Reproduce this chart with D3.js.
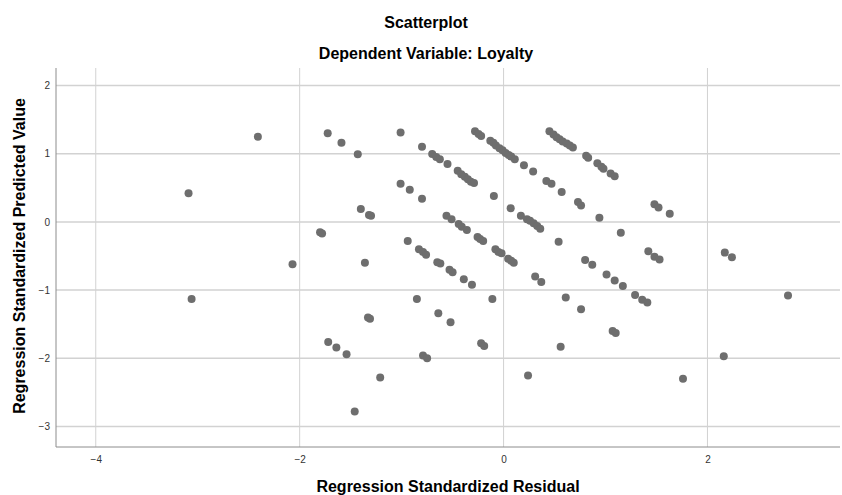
<!DOCTYPE html>
<html>
<head>
<meta charset="utf-8">
<script src="https://cdn.jsdelivr.net/npm/d3@7"></script>
<style>
  body { margin: 0; background: #fff; }
  svg { display: block; font-family: "Liberation Sans", Arial, sans-serif; }
</style>
</head>
<body>
<div id="chart"></div>
<script>
// Standardized residuals (x) and standardized predicted values (y)
const residuals = [
  -3.09, -3.06, -2.41, -2.07, -1.80, -1.78, -1.725, -1.72, -1.64, -1.59, -1.54, -1.46, -1.43, -1.40,
  -1.36, -1.33, -1.31, -1.32, -1.30, -1.21,
  -1.01, -1.01, -0.94, -0.92, -0.85, -0.83, -0.80, -0.80, -0.79, -0.79, -0.76, -0.75, -0.70, -0.66,
  -0.65, -0.64, -0.625, -0.62, -0.56, -0.55, -0.53, -0.52, -0.51, -0.50, -0.45, -0.44, -0.415, -0.41,
  -0.39, -0.38, -0.36, -0.35, -0.32, -0.31, -0.29, -0.28, -0.255, -0.245, -0.23, -0.22, -0.22, -0.20,
  -0.19, -0.13, -0.11, -0.10, -0.095, -0.08, -0.075, -0.05, -0.04, -0.02, -0.01, 0.02, 0.045, 0.05,
  0.07, 0.075, 0.075, 0.10, 0.11, 0.17, 0.20, 0.23, 0.24, 0.26, 0.29, 0.295, 0.31, 0.33, 0.36, 0.37,
  0.42, 0.45, 0.47, 0.49, 0.52, 0.54, 0.55, 0.56, 0.57, 0.58, 0.61, 0.62, 0.65, 0.68, 0.73, 0.76,
  0.76, 0.80, 0.81, 0.83, 0.87, 0.92, 0.94, 0.96, 0.98, 1.01, 1.05, 1.07, 1.09, 1.09, 1.10, 1.15, 1.17,
  1.29, 1.36, 1.41, 1.42, 1.48, 1.48, 1.52, 1.53, 1.63, 1.76, 2.16, 2.17, 2.24, 2.79
];
const predicted = [
  0.42, -1.13, 1.25, -0.62, -0.15, -0.17, 1.30, -1.76, -1.84, 1.16, -1.94, -2.78, 0.99, 0.19,
  -0.60, -1.40, -1.42, 0.10, 0.09, -2.28,
  1.31, 0.56, -0.28, 0.47, -1.13, -0.40, 1.10, 0.34, -0.44, -1.96, -0.48, -2.00, 0.995, 0.95,
  -0.59, -1.34, 0.92, -0.61, 0.09, 0.85, -0.70, -1.47, 0.04, -0.74, 0.75, -0.03, 0.70, -0.07,
  -0.84, 0.66, -0.12, 0.625, 0.59, -0.92, 0.57, 1.33, -0.22, 1.29, -0.25, 1.26, -1.78, -0.28,
  -1.82, 1.19, -1.13, 1.16, 0.38, -0.40, 1.12, -0.44, 1.08, -0.46, 1.05, 1.01, -0.54, 0.98,
  0.20, 0.96, -0.57, -0.60, 0.92, 0.09, 0.83, 0.04, -2.25, 0.015, 0.74, -0.02, -0.80, -0.06, -0.10, -0.88,
  0.60, 1.33, 0.56, 1.28, 1.24, -0.29, 1.21, -1.83, 0.44, 1.18, -1.11, 1.15, 1.12, 1.09, 0.29, 0.24,
  -1.28, -0.56, 0.97, 0.94, -0.63, 0.86, 0.06, 0.81, 0.78, -0.77, 0.71, -1.60, 0.67, -0.86, -1.63, -0.16, -0.94,
  -1.07, -1.14, -1.18, -0.43, 0.26, -0.51, 0.21, -0.55, 0.12, -2.30, -1.97, -0.45, -0.52, -1.08
];
const xTicks = [-4, -2, 0, 2];
const yTicks = [-3, -2, -1, 0, 1, 2];

const title = 'Scatterplot';
const subtitle = 'Dependent Variable: Loyalty';
const xTitle = 'Regression Standardized Residual';
const yTitle = 'Regression Standardized Predicted Value';

const width = 842, height = 495;
const margin = { top: 68, right: 2, bottom: 48, left: 56 };

const svg = d3.select('#chart').append('svg')
  .attr('width', width)
  .attr('height', height);

const x = d3.scaleLinear().domain([-4.39, 3.30]).range([margin.left, width - margin.right]);
const y = d3.scaleLinear().domain([-3.3, 2.3]).range([height - margin.bottom, 65]);

// Gridlines
svg.append('g')
  .selectAll('line')
  .data(xTicks)
  .join('line')
  .attr('x1', d => x(d)).attr('x2', d => x(d))
  .attr('y1', margin.top).attr('y2', height - margin.bottom)
  .attr('stroke', '#d2d2d2');

svg.append('g')
  .selectAll('line')
  .data(yTicks)
  .join('line')
  .attr('x1', margin.left).attr('x2', width - margin.right)
  .attr('y1', d => y(d)).attr('y2', d => y(d))
  .attr('stroke', '#d2d2d2')
  .attr('stroke-width', 1.5);

// Axes
const xAxis = d3.axisBottom(x).tickValues(xTicks).tickSize(0).tickPadding(9).tickFormat(d3.format('d'));
const yAxis = d3.axisLeft(y).tickValues(yTicks).tickSize(0).tickPadding(6).tickFormat(d3.format('d'));

const gx = svg.append('g')
  .attr('transform', `translate(0,${height - margin.bottom})`)
  .call(xAxis);
gx.select('.domain').attr('stroke', '#8c8c8c').attr('d', `M${margin.left},0H${width - margin.right}`);
gx.selectAll('text').attr('fill', '#333').style('font-size', '10px');

const gy = svg.append('g')
  .attr('transform', `translate(${margin.left},0)`)
  .call(yAxis);
gy.select('.domain').attr('stroke', '#8c8c8c').attr('d', `M0,${margin.top}V${height - margin.bottom}`);
gy.selectAll('text').attr('fill', '#333').style('font-size', '10px');

// Points
const points = residuals.map((r, i) => ({ r, p: predicted[i] }));
svg.append('g')
  .selectAll('circle')
  .data(points)
  .join('circle')
  .attr('cx', d => x(d.r))
  .attr('cy', d => y(d.p))
  .attr('r', 4)
  .attr('fill', '#6e6e6e');

// Titles
svg.append('text')
  .attr('x', 426).attr('y', 28)
  .attr('text-anchor', 'middle')
  .style('font-size', '16px').style('font-weight', 'bold')
  .text(title);

svg.append('text')
  .attr('x', 426).attr('y', 59)
  .attr('text-anchor', 'middle')
  .style('font-size', '16px').style('font-weight', 'bold')
  .text(subtitle);

svg.append('text')
  .attr('x', 448).attr('y', 492)
  .attr('text-anchor', 'middle')
  .style('font-size', '16px').style('font-weight', 'bold')
  .text(xTitle);

svg.append('text')
  .attr('transform', `translate(25,256) rotate(-90)`)
  .attr('text-anchor', 'middle')
  .style('font-size', '16px').style('font-weight', 'bold')
  .text(yTitle);
</script>
</body>
</html>
